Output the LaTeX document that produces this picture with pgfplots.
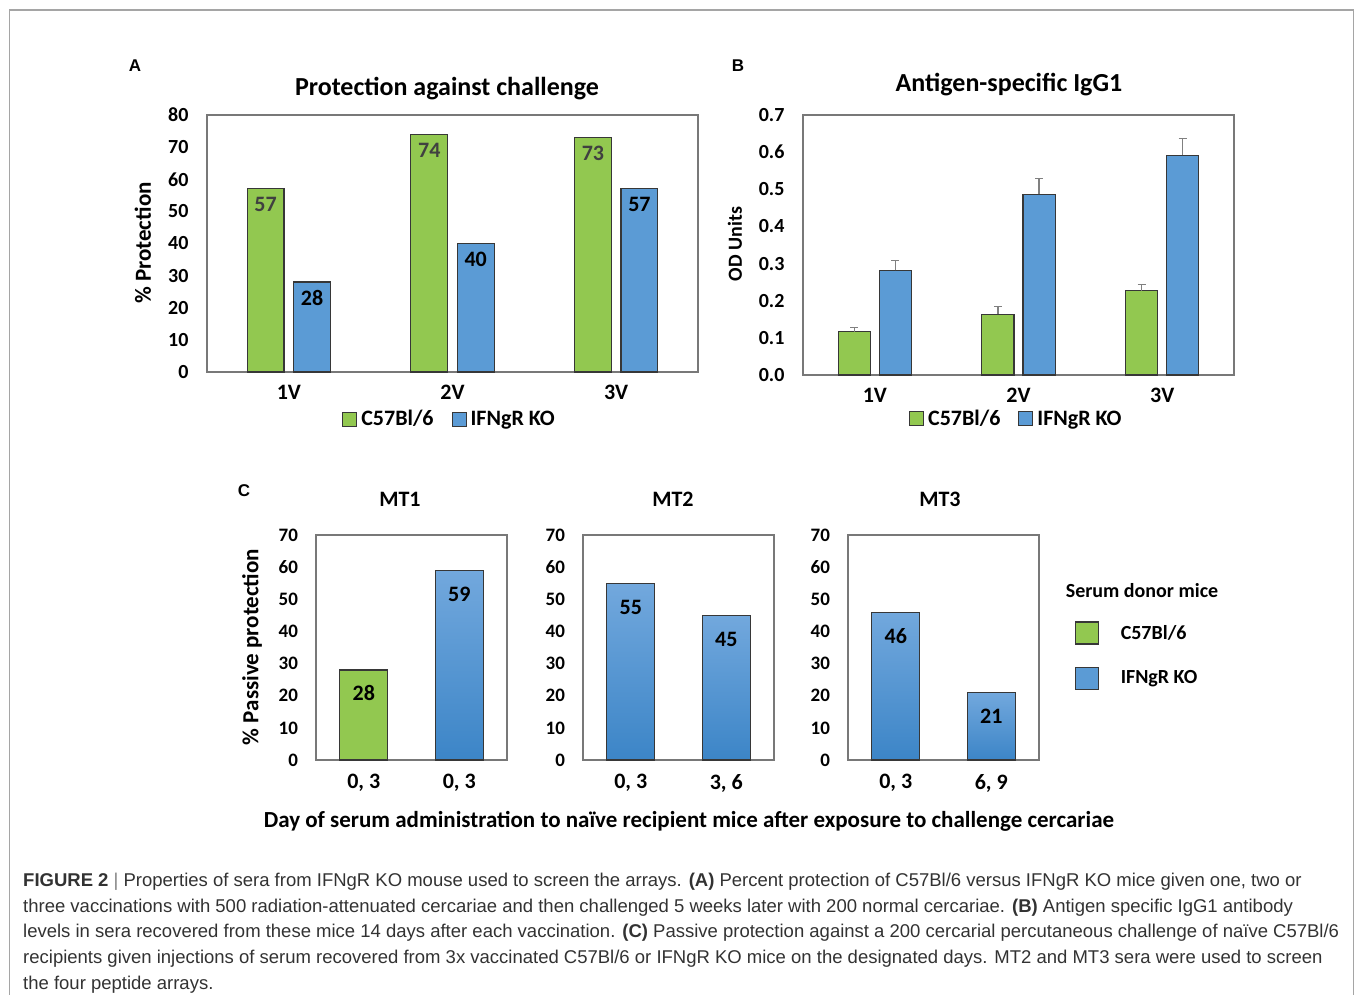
\documentclass[border=0pt]{standalone}
\usepackage{fontspec}
\usepackage{pgfplots}
\pgfplotsset{compat=1.18}
\setmainfont{Carlito}
\newfontfamily\capfont{Liberation Sans}
\newfontfamily\arialfont{Liberation Sans}
\definecolor{cgreen}{RGB}{146,200,80}
\definecolor{cblue}{RGB}{91,155,213}
\definecolor{cblueT}{RGB}{114,168,221}
\definecolor{cblueB}{RGB}{60,133,199}
\definecolor{framec}{RGB}{165,165,165}
\definecolor{axc}{RGB}{120,120,120}
\definecolor{barc}{RGB}{55,55,55}
\definecolor{captxt}{RGB}{50,50,50}
\newcommand{\fs}[1]{\fontsize{#1}{#1}\selectfont}
\pgfplotsset{
  /pgf/number format/assume math mode=true,
  base/.style={
    scale only axis, clip=false,
    axis line style={draw=axc, line width=1.1pt},
    major tick length=0pt,
    tick style={draw=none},
    ticklabel style={text=black},
  },
  sqleg/.style={legend image code/.code={\draw[##1, line width=1pt] (0pt,-7pt) rectangle (14pt,7pt);}},
  bigleg/.style={legend image code/.code={\draw[##1] (0pt,-11pt) rectangle (23pt,11pt);}},
}
\begin{document}
\begin{tikzpicture}[x=1pt,y=1pt]
\path[use as bounding box] (0,0) rectangle (1355,994);
\draw[framec, line width=1.5pt] (9.5,-2) -- (9.5,984) -- (1353.5,984) -- (1353.5,-2);

% ---------------- Panel A
\begin{axis}[base, at={(207pt,622pt)}, anchor=south west, width=491pt, height=257pt,
  xmin=0.5, xmax=3.5, ymin=0, ymax=80,
  ytick={0,10,20,30,40,50,60,70,80}, yticklabels={0,10,20,30,40,50,60,70,80},
  yticklabel style={font=\bfseries\fs{20}, xshift=-15pt},
  xtick={1,2,3}, xticklabels={1V,2V,3V},
  xticklabel style={font=\bfseries\fs{22}, yshift=-10pt},
  ybar, bar width=0.225,
  nodes near coords,
  every node near coord/.append style={font=\bfseries\fs{22}, yshift=-27pt},
  sqleg,
  legend columns=2,
  legend style={at={(0.494,-0.183)}, anchor=center, draw=none, fill=none, font=\bfseries\fs{22},
    /tikz/every odd column/.append style={column sep=2pt},
    /tikz/every even column/.append style={column sep=16pt}},
]
\addplot[fill=cgreen, draw=barc, line width=1.1pt, bar shift=-0.142,
  every node near coord/.append style={text=black!75}, sqleg]
  coordinates {(1,57) (2,74) (3,73)};
\addlegendentry{C57Bl/6}
\addplot[fill=cblue, draw=barc, line width=1.1pt, bar shift=0.142,
  every node near coord/.append style={text=black}, sqleg]
  coordinates {(1,28) (2,40) (3,57)};
\addlegendentry{IFNgR KO}
\end{axis}

% ---------------- Panel B
\begin{axis}[base, at={(803pt,619pt)}, anchor=south west, width=431pt, height=260pt,
  xmin=0.5, xmax=3.5, ymin=0, ymax=0.7,
  ytick={0,0.1,0.2,0.3,0.4,0.5,0.6,0.7}, yticklabels={0.0,0.1,0.2,0.3,0.4,0.5,0.6,0.7},
  yticklabel style={font=\bfseries\fs{20}, xshift=-15pt},
  xtick={1,2,3}, xticklabels={1V,2V,3V},
  xticklabel style={font=\bfseries\fs{22}, yshift=-10pt},
  ybar, bar width=0.223,
  sqleg,
  legend columns=2,
  legend style={at={(0.495,-0.169)}, anchor=center, draw=none, fill=none, font=\bfseries\fs{22},
    /tikz/every odd column/.append style={column sep=2pt},
    /tikz/every even column/.append style={column sep=16pt}},
]
\addplot[fill=cgreen, draw=barc, line width=1.1pt, bar shift=-0.143, sqleg,
  error bars/.cd, y dir=plus, y explicit,
  error bar style={draw=gray, line width=1.2pt},
  error mark options={rotate=90, mark size=4pt, draw=gray, line width=1.2pt}]
  coordinates {(1,0.117) +- (0,0.011) (2,0.164) +- (0,0.020) (3,0.227) +- (0,0.016)};
\addlegendentry{C57Bl/6}
\addplot[fill=cblue, draw=barc, line width=1.1pt, bar shift=0.143, sqleg,
  error bars/.cd, y dir=plus, y explicit,
  error bar style={draw=gray, line width=1.2pt},
  error mark options={rotate=90, mark size=4pt, draw=gray, line width=1.2pt}]
  coordinates {(1,0.282) +- (0,0.027) (2,0.486) +- (0,0.044) (3,0.592) +- (0,0.045)};
\addlegendentry{IFNgR KO}
\end{axis}

% ---------------- Panel C
\pgfplotsset{cax/.style={base, anchor=south west, width=191pt, height=225pt,
  xmin=0.5, xmax=2.5, ymin=0, ymax=70,
  ytick={0,10,20,30,40,50,60,70}, yticklabels={0,10,20,30,40,50,60,70},
  yticklabel style={font=\bfseries\fs{19}, xshift=-14.5pt},
  xtick={1,2},
  xticklabel style={font=\bfseries\fs{22}, yshift=-10.5pt},
  ybar, bar width=0.5,
  nodes near coords,
  every node near coord/.append style={font=\bfseries\fs{22}, yshift=-35pt, text=black}}}

\begin{axis}[cax, at={(316pt,234pt)}, xticklabels={{0, 3},{0, 3}}]
\addplot[bar shift=0pt, fill=cgreen, draw=barc, line width=1.1pt] coordinates {(1,28)};
\addplot[bar shift=0pt, top color=cblueT, bottom color=cblueB, draw=barc, line width=1.1pt] coordinates {(2,59)};
\end{axis}

\begin{axis}[cax, at={(583pt,234pt)}, xticklabels={{0, 3},{3, 6}}]
\addplot[bar shift=0pt, top color=cblueT, bottom color=cblueB, draw=barc, line width=1.1pt] coordinates {(1,55)};
\addplot[bar shift=0pt, top color=cblueT, bottom color=cblueB, draw=barc, line width=1.1pt] coordinates {(2,45)};
\end{axis}

\begin{axis}[cax, at={(848pt,234pt)}, xticklabels={{0, 3},{6, 9}},
  bigleg, legend cell align=left,
  legend style={at={(1.17,0.464)}, anchor=west, draw=none, fill=none, font=\bfseries\fs{20}, row sep=22pt, /tikz/every odd column/.append style={column sep=20pt}}]
\addplot[forget plot, bar shift=0pt, top color=cblueT, bottom color=cblueB, draw=barc, line width=1.1pt] coordinates {(1,46)};
\addplot[forget plot, bar shift=0pt, top color=cblueT, bottom color=cblueB, draw=barc, line width=1.1pt] coordinates {(2,21)};
\addlegendimage{fill=cgreen, draw=barc, line width=1.1pt, bigleg}
\addlegendentry{C57Bl/6}
\addlegendimage{fill=cblue, draw=barc, line width=1.1pt, bigleg}
\addlegendentry{IFNgR KO}
\end{axis}

% ---------------- texts
\node[font=\arialfont\bfseries\fs{17}] at (135,928) {A};
\node[font=\arialfont\bfseries\fs{17}] at (738,928) {B};
\node[font=\arialfont\bfseries\fs{17}] at (244,503) {C};
\node[font=\bfseries\fs{26}] at (447,905) {Protection against challenge};
\node[font=\bfseries\fs{26}] at (1009,909) {Antigen-specific IgG1};
\node[font=\bfseries\fs{23}, rotate=90] at (143,751) {\% Protection};
\node[font=\bfseries\fs{20}, rotate=90] at (735,750) {OD Units};
\node[font=\bfseries\fs{22}] at (400,495) {MT1};
\node[font=\bfseries\fs{22}] at (673,495) {MT2};
\node[font=\bfseries\fs{22}] at (940,495) {MT3};
\node[font=\bfseries\fs{23}, rotate=90] at (252,347) {\% Passive protection};
\node[font=\bfseries\fs{23}] at (689,173) {Day of serum administration to naïve recipient mice after exposure to challenge cercariae};
\node[font=\bfseries\fs{20}] at (1142,403) {Serum donor mice};

% ---------------- caption
\begin{scope}[every node/.style={anchor=base west, inner sep=0pt, font=\capfont\fs{18.5}, text=captxt}]
\node at (23,107.5) {\textbf{FIGURE 2} {\color{gray}|} Properties of sera from IFNgR KO mouse used to screen the arrays. \textbf{(A)} Percent protection of C57Bl/6 versus IFNgR KO mice given one, two or};
\node at (23,82) {three vaccinations with 500 radiation-attenuated cercariae and then challenged 5 weeks later with 200 normal cercariae. \textbf{(B)} Antigen specific IgG1 antibody};
\node at (23,56.5) {levels in sera recovered from these mice 14 days after each vaccination. \textbf{(C)} Passive protection against a 200 cercarial percutaneous challenge of naïve C57Bl/6};
\node at (23,31) {recipients given injections of serum recovered from 3x vaccinated C57Bl/6 or IFNgR KO mice on the designated days. MT2 and MT3 sera were used to screen};
\node at (23,5) {the four peptide arrays.};
\end{scope}
\end{tikzpicture}
\end{document}
